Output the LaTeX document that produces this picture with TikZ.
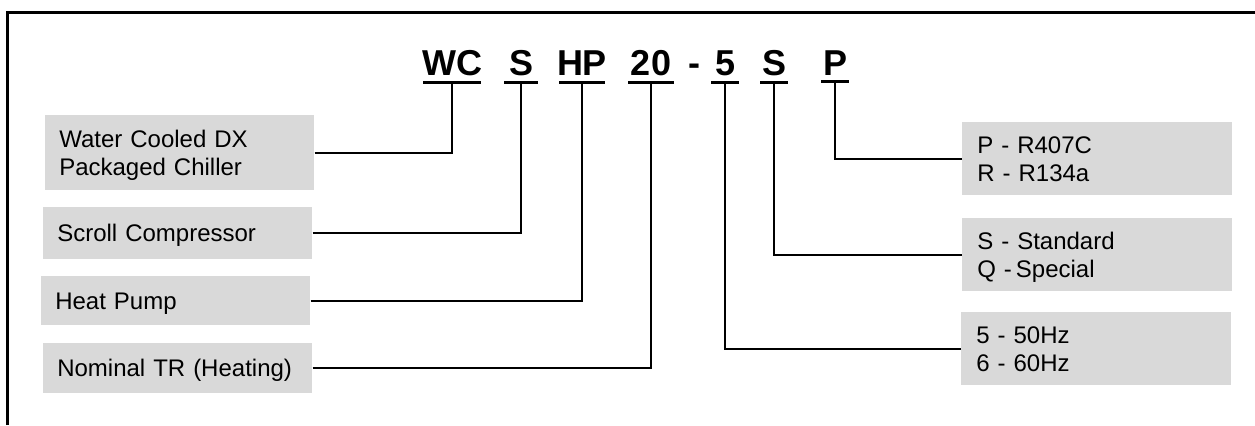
\documentclass[tikz,border=0pt]{standalone}
\usepackage{fontspec}
\setmainfont{Liberation Sans}
\definecolor{boxgray}{RGB}{217,217,217}
\newcommand\mystrut{\rule[-3.8pt]{0pt}{20.5pt}}
\begin{document}
\begin{tikzpicture}[x=0.75pt,y=-0.75pt,
  lbox/.style={fill=boxgray, draw=none, inner xsep=10.5pt, inner ysep=0pt,
    text width=180.75pt, align=left, font=\fontsize{18}{21}\selectfont, anchor=north west},
  rbox/.style={fill=boxgray, draw=none, inner xsep=11.25pt, inner ysep=0pt,
    text width=180pt, align=left, font=\fontsize{18}{21}\selectfont, anchor=north west,
    minimum height=54.75pt},
  code/.style={font=\fontsize{27}{30}\selectfont\bfseries, anchor=base, inner sep=0pt},
  uline/.style={line width=2.25pt},
  conn/.style={line width=1.2pt},
  frame/.style={line width=2.25pt}]
\useasboundingbox (0,0) rectangle (1255,425);

% frame
\draw[frame] (7.5,425) -- (7.5,12.5) -- (1255,12.5);

% model code
\node[code] (cWC) at (452,75) {WC};
\node[code] (cS)  at (521,75) {S};
\node[code] (cHP) at (582,75) {HP};
\node[code] (c20) at (651,75) {20};
\node[code] (cdash) at (694,75) {-};
\node[code] (c5)  at (725,75) {5};
\node[code] (cS2) at (774,75) {S};
\node[code] (cP)  at (835,75) {P};

% underlines and stem tops
\coordinate (u1) at (452,82.5);
\coordinate (u2) at (521,82.5);
\coordinate (u3) at (582,82.5);
\coordinate (u4) at (651,82.5);
\coordinate (u5) at (725,82.5);
\coordinate (u6) at (774,82.5);
\coordinate (u7) at (835,81.5);
\draw[uline] (423,82.5) -- (481,82.5);
\draw[uline] (504,82.5) -- (538,82.5);
\draw[uline] (559,82.5) -- (605,82.5);
\draw[uline] (628,82.5) -- (674,82.5);
\draw[uline] (711,82.5) -- (739,82.5);
\draw[uline] (760,82.5) -- (788,82.5);
\draw[uline] (821,81.5) -- (849,81.5);

% left boxes
\node[lbox, minimum height=56.25pt] (b1) at (45,115) {\mystrut Water Cooled DX\\\mystrut Packaged Chiller};
\node[lbox, minimum height=39pt] (b2) at (43,207) {\mystrut Scroll Compressor};
\node[lbox, minimum height=36.75pt] (b3) at (41,276) {\mystrut Heat Pump};
\node[lbox, minimum height=37.5pt] (b4) at (43,343) {\mystrut Nominal TR (Heating)};

% right boxes
\node[rbox] (r1) at (962,122) {\mystrut P - R407C\\\mystrut R - R134a};
\node[rbox] (r2) at (962,218) {\mystrut S - Standard\\\mystrut Q -\kern3pt Special};
\node[rbox] (r3) at (961,312) {\mystrut 5 - 50Hz\\\mystrut 6 - 60Hz};

% connectors
\draw[conn] (b1.east) -| (u1);
\draw[conn] (b2.east) -| (u2);
\draw[conn] (b3.east) -| (u3);
\draw[conn] (b4.east) -| (u4);
\draw[conn] (r1.west) -| (u7);
\draw[conn] (r2.west) -| (u6);
\draw[conn] (r3.west) -| (u5);
\end{tikzpicture}
\end{document}
